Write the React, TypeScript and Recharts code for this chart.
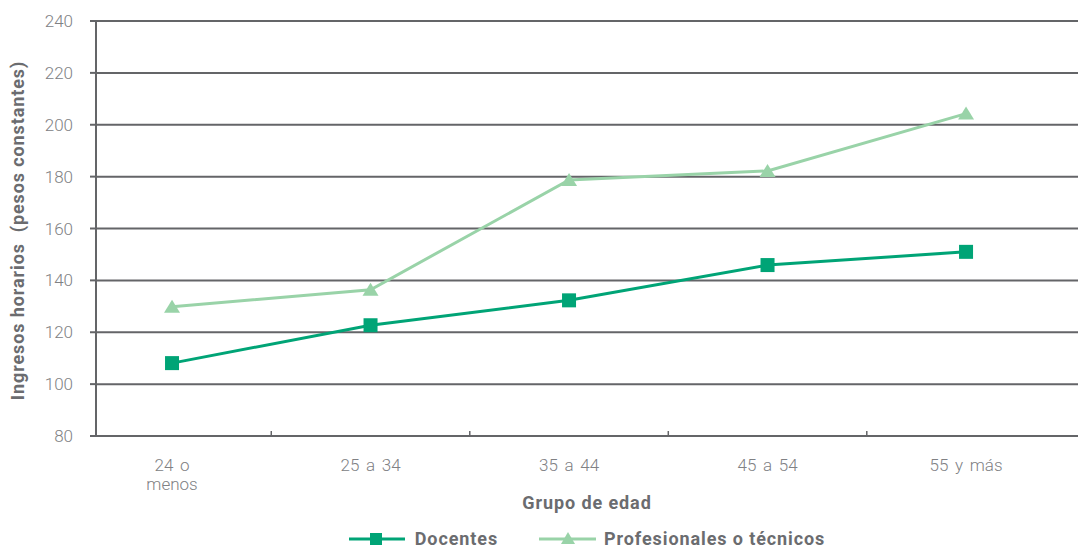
import React from 'react';
import { LineChart, Line, XAxis, YAxis, CartesianGrid, Legend } from 'recharts';

// Age groups and hourly income (constant pesos)
const categories = ['24 o menos', '25 a 34', '35 a 44', '45 a 54', '55 y más'];
const categoryLines = [['24 o', 'menos'], ['25 a 34'], ['35 a 44'], ['45 a 54'], ['55 y más']];
const docentes = [108.1, 122.7, 132.3, 145.9, 151.0];
const profesionales = [129.8, 136.4, 178.7, 182.2, 204.3];
const yTicks = [80, 100, 120, 140, 160, 180, 200, 220, 240];
// integer ticks carry labels, half ticks mark the group boundaries
const xTicks = [0, 0.5, 1, 1.5, 2, 2.5, 3, 3.5, 4];

const seriesNames = ['Docentes', 'Profesionales o técnicos'];

const data = categories.map((c, i) => ({
  idx: i,
  cat: c,
  docentes: docentes[i],
  profesionales: profesionales[i],
}));

const DARK = '#00a476';
const LIGHT = '#99d3a8';
const GRID = '#646568';
const TICK_TEXT = '#808184';
const TITLE_TEXT = '#6b6c6f';
const FONT = 'Roboto, "DejaVu Sans", sans-serif';
const TITLE_SIZE = 18;
const TITLE_SPACING = 0.9;

const CategoryTick = (props: any) => {
  const { x, y, payload } = props;
  const v = payload.value as number;
  if (!Number.isInteger(v)) {
    return <line x1={x} x2={x} y1={y - 5} y2={y + 1} stroke={GRID} strokeWidth={1.5} />;
  }
  const lines = categoryLines[v] || [categories[v]];
  return (
    <text
      x={x}
      y={y}
      textAnchor="middle"
      fill={TICK_TEXT}
      fontFamily={FONT}
      fontWeight={300}
      fontSize={17}
      style={{ wordSpacing: 2.5 }}
    >
      {lines.map((ln, i) => (
        <tspan key={i} x={x} y={y + 35 + i * 19}>
          {ln}
        </tspan>
      ))}
    </text>
  );
};

const YTitle = (props: any) => {
  const vb = props.viewBox || { x: 0, y: 0, width: 0, height: 0 };
  const cx = vb.x + 24;
  const cy = vb.y + vb.height / 2 + 2;
  return (
    <text
      x={cx}
      y={cy}
      transform={`rotate(-90, ${cx}, ${cy})`}
      textAnchor="middle"
      fill={TITLE_TEXT}
      fontFamily={FONT}
      fontWeight={700}
      fontSize={TITLE_SIZE}
      letterSpacing={TITLE_SPACING}
      style={{ whiteSpace: 'pre' }}
    >
      {'Ingresos horarios  (pesos constantes)'}
    </text>
  );
};

const XTitle = (props: any) => {
  const vb = props.viewBox || { x: 0, y: 0, width: 0, height: 0 };
  return (
    <text
      x={vb.x + vb.width / 2}
      y={vb.y + 73}
      textAnchor="middle"
      fill={TITLE_TEXT}
      fontFamily={FONT}
      fontWeight={700}
      fontSize={TITLE_SIZE}
      letterSpacing={TITLE_SPACING}
    >
      Grupo de edad
    </text>
  );
};

const SquareDot = (props: any) => {
  const { cx, cy, index } = props;
  if (cx == null || cy == null) return <g key={`sq-${index}`} />;
  return <rect key={`sq-${index}`} x={cx - 7} y={cy - 7} width={14} height={14} fill={DARK} />;
};

const TriangleDot = (props: any) => {
  const { cx, cy, index } = props;
  if (cx == null || cy == null) return <g key={`tr-${index}`} />;
  return (
    <polygon
      key={`tr-${index}`}
      points={`${cx},${cy - 7} ${cx + 8},${cy + 6} ${cx - 8},${cy + 6}`}
      fill={LIGHT}
    />
  );
};

const LegendBox = () => (
  <div
    style={{
      display: 'flex',
      justifyContent: 'center',
      alignItems: 'center',
      height: 18,
      fontFamily: FONT,
      fontWeight: 700,
      fontSize: TITLE_SIZE,
      letterSpacing: TITLE_SPACING,
      color: TITLE_TEXT,
    }}
  >
    <svg width={56} height={18} style={{ marginRight: 10 }}>
      <line x1={0} x2={56} y1={9} y2={9} stroke={DARK} strokeWidth={3} />
      <rect x={21} y={3} width={12} height={12} fill={DARK} />
    </svg>
    <span style={{ marginRight: 41, lineHeight: '18px' }}>{seriesNames[0]}</span>
    <svg width={57} height={18} style={{ marginRight: 8 }}>
      <line x1={0} x2={57} y1={9} y2={9} stroke={LIGHT} strokeWidth={3} />
      <polygon points="29,2 36,14 22,14" fill={LIGHT} />
    </svg>
    <span style={{ lineHeight: '18px' }}>{seriesNames[1]}</span>
  </div>
);

export default function App() {
  return (
    <div style={{ position: 'absolute', left: 0, top: 0, width: 1078, height: 548, background: '#fff' }}>
      <LineChart
        width={1078}
        height={548}
        data={data}
        margin={{ top: 21, right: 0, bottom: 0, left: 0 }}
      >
        <CartesianGrid horizontal vertical={false} stroke={GRID} strokeWidth={2} />
        <XAxis
          type="number"
          dataKey="idx"
          domain={[-0.383, 4.564]}
          allowDataOverflow
          ticks={xTicks}
          interval={0}
          tickLine={false}
          tickSize={0}
          tickMargin={0}
          tick={<CategoryTick />}
          axisLine={{ stroke: GRID, strokeWidth: 2 }}
          height={94}
          label={<XTitle />}
        />
        <YAxis
          type="number"
          domain={[80, 240]}
          ticks={yTicks}
          interval={0}
          width={96}
          tickSize={6}
          tickMargin={17}
          tickLine={{ stroke: GRID, strokeWidth: 2 }}
          axisLine={{ stroke: GRID, strokeWidth: 2 }}
          tick={{ fill: TICK_TEXT, fontFamily: FONT, fontWeight: 300, fontSize: 17 }}
          label={<YTitle />}
        />
        <Legend
          verticalAlign="bottom"
          content={() => <LegendBox />}
          wrapperStyle={{ left: 96, width: 982 }}
        />
        <Line
          type="linear"
          dataKey="profesionales"
          name={seriesNames[1]}
          stroke={LIGHT}
          strokeWidth={3}
          dot={TriangleDot}
          activeDot={false}
          isAnimationActive={false}
        />
        <Line
          type="linear"
          dataKey="docentes"
          name={seriesNames[0]}
          stroke={DARK}
          strokeWidth={3}
          dot={SquareDot}
          activeDot={false}
          isAnimationActive={false}
        />
      </LineChart>
    </div>
  );
}
